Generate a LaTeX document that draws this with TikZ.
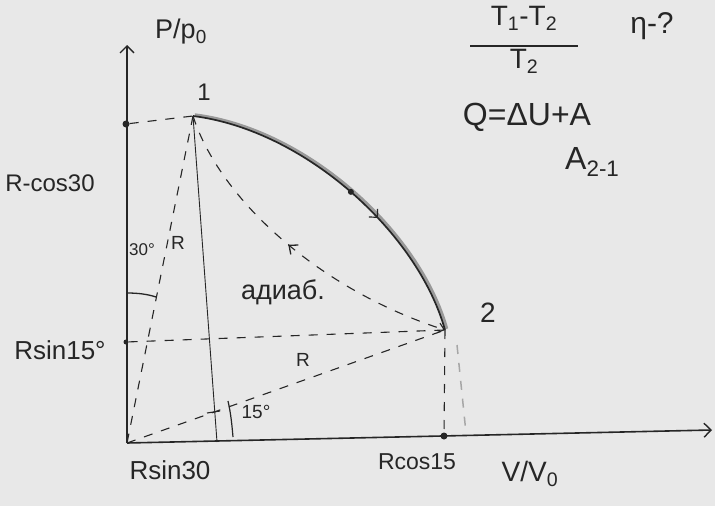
\documentclass[tikz,border=0pt]{standalone}
\usepackage{fontspec}
\setmainfont{Liberation Sans}
\usetikzlibrary{arrows.meta,decorations.markings}
\newcommand{\fsz}[1]{\fontsize{#1}{#1}\selectfont}
\begin{document}
\begin{tikzpicture}[x=1pt,y=-1pt,
  ink/.style={draw=black!85},
  lbl/.style={font=\fsz{22}, inner sep=0pt, text=black!85},
  smalllbl/.style={font=\fsz{17}, inner sep=0pt, text=black!85},
  axisline/.style={ink, line width=1.6pt, -{Straight Barb[length=7pt,width=14pt,line width=1.4pt]}},
  dsh/.style={ink, line width=1.1pt, dash pattern=on 9pt off 9pt},
  thinline/.style={ink, line width=0.9pt},
  curveline/.style={ink, line width=1.7pt},
  dotnode/.style={circle, fill=black!85, inner sep=0pt, minimum size=#1},
  dotnode/.default=7pt
]
\useasboundingbox (0,0) rectangle (715,506);
\fill[black!9] (0,0) rectangle (715,506);

% points
\coordinate (O) at (127,443);
\coordinate (ytop) at (127,45);
\coordinate (xend) at (712,430);
\coordinate (p1) at (193,116);
\coordinate (p2) at (445,330);
\node[dotnode] (y1) at (126,124) {};
\node[dotnode=5pt] (y15) at (126,342) {};
\node[dotnode] (x2) at (444,436) {};
\coordinate (xv) at (217,442);
\coordinate (g1) at (457,345);
\coordinate (g2) at (466,433);

% axes
\draw[axisline] (O) -- (xend);
\draw[axisline] (O) -- (ytop);

% guide lines
\draw[dsh] (y1) -- (p1);
\draw[dsh] (p1) -- (O);
\draw[thinline] (p1) -- (xv);
\draw[dsh] (y15) -- (p2);
\draw[dsh] (O) -- (p2);
\draw[dsh] (p2) -- (x2);
\draw[dsh, draw=black!35, line width=1.5pt] (g1) -- (g2);

% adiabat
\draw[dsh, -{Straight Barb[length=6pt,width=10pt,line width=1.1pt]},
  postaction={decorate, decoration={markings,
    mark=at position 0.5 with {\arrow[black!85, line width=1.3pt]{Straight Barb[reversed,length=7pt,width=12pt]}}}}]
  (p1) .. controls (220,200) and (320,290) .. (p2);

% main curve 1-2
\draw[black!40, line width=3pt, transform canvas={xshift=1.8pt,yshift=1.2pt}]
  (p1) .. controls (305,130) and (418,233) .. (p2);
\draw[curveline,
  postaction={decorate, decoration={markings,
    mark=at position 0.62 with {\arrow[black!85, line width=1.2pt]{Straight Barb[length=6pt,width=12pt]}}}}]
  (p1) .. controls (305,130) and (418,233) .. (p2)
  node[pos=0.5, dotnode=6pt] (cdot) {};

% angle marks
\draw[ink, line width=1.3pt] (127,293) .. controls (137,293) and (147,294) .. (156,297);
\draw[ink, line width=1.2pt] (228,401) .. controls (231,414) and (232,426) .. (233,437);
\draw[ink, line width=1.1pt] (207,413) -- (220,411);

% labels
\node[lbl, font=\fsz{27}] (lP) at (181,32) {P/p\textsubscript{0}};
\node[lbl, font=\fsz{24}] (l1) at (204,92) {1};
\node[lbl, font=\fsz{24}] (lRcos30) at (50,183) {R-cos30};
\node[lbl, font=\fsz{26}] (lRsin15) at (60,350) {Rsin15°};
\node[lbl, font=\fsz{26}] (lRsin30) at (170,470) {Rsin30};
\node[lbl, font=\fsz{23}] (lRcos15) at (417,462) {Rcos15};
\node[lbl, font=\fsz{28}] (lV) at (530,474) {V/V\textsubscript{0}};
\node[lbl, font=\fsz{28}] (l2) at (488,313) {2};
\node[smalllbl] (l30) at (142,250) {30°};
\node[smalllbl, font=\fsz{19}] (lR1) at (178,243) {R};
\node[smalllbl, font=\fsz{19}] (lR2) at (303,360) {R};
\node[smalllbl, font=\fsz{19}] (l15) at (256,412) {15°};
\node[lbl, font=\fsz{27}] (lad) at (283,292) {адиаб.};
\node[lbl, font=\fsz{28}, align=center] (frac) at (524,40)
  {T\textsubscript{1}-T\textsubscript{2}\\[-7pt]\rule{108pt}{1.4pt}\\[-6pt]T\textsubscript{2}};
\node[lbl, font=\fsz{30}] (eta) at (652,26) {η-?};
\node[lbl, font=\fsz{32}] (Q) at (527,117) {Q=ΔU+A};
\node[lbl, font=\fsz{32}, anchor=west] (A21) at (565,162) {A\textsubscript{2-1}};
\end{tikzpicture}
\end{document}
